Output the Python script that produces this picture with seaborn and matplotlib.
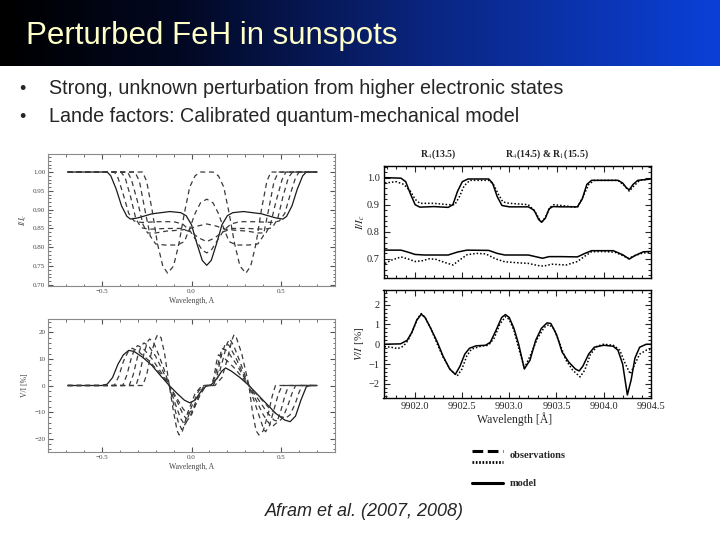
import numpy as np
import pandas as pd
import seaborn as sns
import matplotlib.pyplot as plt
from matplotlib.colors import LinearSegmentedColormap
from matplotlib.ticker import MultipleLocator

# ---- slide text
title = "Perturbed FeH in sunspots"
bullets = ["Strong, unknown perturbation from higher electronic states",
           "Lande factors: Calibrated quantum-mechanical model"]
citation = "Afram et al. (2007, 2008)"
branch_labels = [r"R$_4$(13.5)", r"R$_4$(14.5) & R$_1$(15.5)"]

# ---- left top: I/Ic vs wavelength offset (solid + 5 dashed)
lt_solid = [(-0.69,1.0),(-0.47,1.0),(-0.45,0.99),(-0.42,0.955),(-0.39,0.91),(-0.36,0.882),(-0.34,0.875),(-0.30,0.878),
            (-0.22,0.889),(-0.12,0.895),(-0.06,0.892),(-0.03,0.884),(0.0,0.86),(0.03,0.81),(0.06,0.765),(0.085,0.752),
            (0.11,0.765),(0.14,0.81),(0.17,0.86),(0.20,0.884),(0.23,0.892),(0.29,0.895),(0.39,0.889),(0.47,0.878),
            (0.51,0.875),(0.53,0.882),(0.56,0.91),(0.59,0.955),(0.62,0.99),(0.64,1.0),(0.70,1.0)]
lt_d1 = [(-0.69,1.0),(-0.43,1.0),(-0.41,0.985),(-0.38,0.94),(-0.35,0.89),(-0.32,0.87),(-0.28,0.866),(-0.18,0.868),
         (-0.10,0.868),(-0.05,0.862),(-0.01,0.845),(0.03,0.815),(0.06,0.792),(0.085,0.785),(0.11,0.792),(0.14,0.815),
         (0.18,0.845),(0.22,0.862),(0.27,0.868),(0.35,0.868),(0.45,0.866),(0.49,0.87),(0.52,0.89),(0.55,0.94),
         (0.58,0.985),(0.60,1.0),(0.70,1.0)]
lt_d2 = [(-0.69,1.0),(-0.393,1.0),(-0.37,0.985),(-0.34,0.935),(-0.31,0.875),(-0.28,0.852),(-0.24,0.848),(-0.14,0.85),
         (-0.06,0.85),(0.0,0.84),(0.04,0.825),(0.085,0.815),(0.13,0.825),(0.17,0.84),(0.23,0.85),(0.31,0.85),
         (0.41,0.848),(0.45,0.852),(0.48,0.875),(0.51,0.935),(0.54,0.985),(0.563,1.0),(0.70,1.0)]
lt_d3 = [(-0.69,1.0),(-0.356,1.0),(-0.335,0.98),(-0.30,0.92),(-0.27,0.86),(-0.245,0.838),(-0.20,0.838),(-0.14,0.843),
         (-0.08,0.845),(-0.02,0.848),(0.03,0.856),(0.085,0.862),(0.14,0.856),(0.19,0.848),(0.25,0.845),(0.31,0.843),
         (0.37,0.838),(0.415,0.838),(0.44,0.86),(0.47,0.92),(0.505,0.98),(0.526,1.0),(0.70,1.0)]
lt_d4 = [(-0.69,1.0),(-0.315,1.0),(-0.29,0.975),(-0.26,0.9),(-0.23,0.83),(-0.20,0.809),(-0.15,0.806),(-0.08,0.806),
         (-0.04,0.815),(-0.01,0.85),(0.02,0.89),(0.05,0.918),(0.085,0.928),(0.12,0.918),(0.15,0.89),(0.18,0.85),
         (0.21,0.815),(0.25,0.806),(0.32,0.806),(0.37,0.809),(0.40,0.83),(0.43,0.9),(0.46,0.975),(0.485,1.0),(0.70,1.0)]
lt_d5 = [(-0.69,1.0),(-0.272,1.0),(-0.25,0.975),(-0.22,0.9),(-0.19,0.81),(-0.16,0.75),(-0.133,0.731),(-0.10,0.75),
         (-0.07,0.81),(-0.04,0.89),(-0.01,0.96),(0.02,0.99),(0.05,1.0),(0.085,1.0),(0.12,1.0),(0.15,0.99),(0.18,0.96),
         (0.21,0.89),(0.24,0.81),(0.27,0.75),(0.303,0.731),(0.33,0.75),(0.36,0.81),(0.39,0.9),(0.42,0.975),
         (0.442,1.0),(0.70,1.0)]

# ---- left bottom: V/I [%]
lb_solid = [(-0.69,0),(-0.50,0),(-0.47,0.5),(-0.44,3),(-0.41,8),(-0.38,11.5),(-0.35,13.2),(-0.32,12.8),(-0.27,10.5),
            (-0.22,7.5),(-0.17,3.5),(-0.124,0),(-0.08,-3),(-0.04,-5.5),(-0.01,-6.5),(0.02,-5.5),(0.05,-2.5),
            (0.08,-0.3),(0.11,0.3),(0.14,2.5),(0.17,5.5),(0.19,6.6),(0.22,5.5),(0.27,3),(0.32,0),(0.37,-3.5),
            (0.42,-7),(0.47,-10.5),(0.52,-13),(0.55,-13.6),(0.58,-11.5),(0.61,-5.5),(0.64,-0.5),(0.66,0),(0.70,0)]
lb_d1 = [(-0.69,0),(-0.43,0),(-0.405,3.5),(-0.38,9),(-0.355,12.5),(-0.33,14),(-0.30,13),(-0.24,9.5),(-0.18,5),
         (-0.124,0),(-0.08,-5),(-0.045,-9),(-0.02,-10.5),(0.01,-9),(0.045,-4),(0.08,0),(0.11,0),(0.125,3),(0.14,9),
         (0.15,11.5),(0.18,10.5),(0.24,6.5),(0.29,2.5),(0.32,0),(0.38,-4.5),(0.44,-9),(0.49,-11.5),(0.524,-12.3),
         (0.55,-11),(0.58,-6.5),(0.60,-2.5),(0.617,0),(0.70,0)]
lb_d2 = [(-0.69,0),(-0.383,0),(-0.36,4),(-0.335,10.5),(-0.315,14),(-0.30,15),(-0.27,14),(-0.22,10),(-0.17,5),
         (-0.124,0),(-0.08,-6),(-0.05,-10.5),(-0.03,-12.5),(0.0,-11),(0.04,-4.5),(0.075,0),(0.11,0),(0.13,3),
         (0.155,10),(0.17,14),(0.20,13),(0.25,8),(0.29,3.5),(0.32,0),(0.37,-5),(0.42,-10),(0.46,-13),(0.487,-13.6),
         (0.51,-12),(0.54,-7),(0.56,-3),(0.58,0),(0.70,0)]
lb_d3 = [(-0.69,0),(-0.347,0),(-0.325,4),(-0.30,11),(-0.28,15),(-0.265,16),(-0.24,15),(-0.20,11),(-0.16,5.5),
         (-0.124,0),(-0.09,-7),(-0.06,-12.5),(-0.04,-14.5),(-0.01,-12),(0.03,-5),(0.07,0),(0.12,0),(0.14,3),
         (0.165,11),(0.19,16),(0.21,15),(0.25,10),(0.29,4),(0.32,0),(0.36,-5.5),(0.40,-11),(0.43,-14),(0.45,-15.5),
         (0.475,-14),(0.50,-9),(0.52,-4),(0.542,0),(0.70,0)]
lb_d4 = [(-0.69,0),(-0.31,0),(-0.29,4),(-0.265,12),(-0.245,16.5),(-0.233,17.5),(-0.21,16),(-0.18,11),(-0.15,5.5),
         (-0.124,0),(-0.10,-7),(-0.075,-13.5),(-0.055,-16.5),(-0.03,-14),(0.0,-8),(0.04,-2),(0.07,0),(0.12,0),
         (0.15,3.5),(0.18,11),(0.20,16),(0.213,17.5),(0.235,15),(0.27,9),(0.30,3.5),(0.32,0),(0.35,-6),(0.38,-12),
         (0.40,-16),(0.413,-17.4),(0.435,-15),(0.46,-9),(0.485,-3),(0.506,0),(0.70,0)]
lb_d5 = [(-0.69,0),(-0.272,0),(-0.25,4),(-0.225,12),(-0.20,17.5),(-0.189,19.1),(-0.17,18),(-0.15,12),(-0.124,0),
         (-0.10,-10),(-0.08,-17),(-0.069,-18.6),(-0.05,-17),(-0.02,-10),(0.02,-3),(0.06,0),(0.13,0),(0.17,3),
         (0.20,10),(0.225,17),(0.237,19.1),(0.25,18),(0.28,12),(0.32,0),(0.34,-10),(0.36,-17),(0.376,-18.6),
         (0.40,-17),(0.43,-10),(0.45,-4),(0.468,0),(0.70,0)]

# ---- right top: I/Ic, model (solid) and observations (dotted), two spectra
rt_model_up = [(9901.68,1.0),(9901.85,0.998),(9901.9,0.985),(9901.95,0.94),(9902.0,0.9),(9902.05,0.891),(9902.2,0.893),
               (9902.35,0.89),(9902.4,0.9),(9902.45,0.95),(9902.5,0.985),(9902.56,0.995),(9902.78,0.995),
               (9902.82,0.98),(9902.87,0.93),(9902.92,0.897),(9903.0,0.892),(9903.2,0.892),(9903.26,0.88),
               (9903.31,0.845),(9903.34,0.835),(9903.38,0.85),(9903.42,0.885),(9903.46,0.893),(9903.55,0.892),
               (9903.72,0.892),(9903.77,0.92),(9903.82,0.975),(9903.87,0.99),(9904.15,0.99),(9904.2,0.98),
               (9904.24,0.962),(9904.27,0.955),(9904.31,0.975),(9904.36,0.99),(9904.5,0.995)]
rt_obs_up = [(9901.68,0.98),(9901.8,0.985),(9901.88,0.975),(9901.95,0.95),(9902.0,0.92),(9902.05,0.905),(9902.2,0.905),
             (9902.35,0.9),(9902.42,0.9),(9902.47,0.93),(9902.52,0.97),(9902.58,0.99),(9902.78,0.99),(9902.83,0.975),
             (9902.88,0.94),(9902.93,0.91),(9903.0,0.905),(9903.2,0.9),(9903.27,0.875),(9903.32,0.845),
             (9903.35,0.838),(9903.39,0.86),(9903.43,0.89),(9903.47,0.9),(9903.6,0.895),(9903.72,0.89),
             (9903.78,0.93),(9903.84,0.975),(9903.9,0.99),(9904.15,0.99),(9904.22,0.97),(9904.27,0.95),
             (9904.32,0.97),(9904.38,0.99),(9904.5,0.995)]
rt_model_lo = [(9901.68,0.732),(9901.85,0.732),(9901.92,0.725),(9902.0,0.716),(9902.1,0.714),(9902.35,0.714),
               (9902.45,0.725),(9902.55,0.732),(9902.78,0.731),(9902.87,0.72),(9902.95,0.714),(9903.2,0.714),
               (9903.3,0.706),(9903.35,0.702),(9903.42,0.708),(9903.55,0.708),(9903.72,0.707),(9903.8,0.72),
               (9903.87,0.73),(9904.1,0.73),(9904.2,0.715),(9904.27,0.699),(9904.33,0.712),(9904.42,0.726),
               (9904.5,0.727)]
rt_obs_lo = [(9901.68,0.683),(9901.75,0.695),(9901.85,0.707),(9901.92,0.7),(9902.0,0.69),(9902.08,0.693),
             (9902.15,0.7),(9902.22,0.698),(9902.3,0.688),(9902.4,0.677),(9902.47,0.695),(9902.55,0.715),
             (9902.65,0.72),(9902.75,0.718),(9902.85,0.7),(9902.95,0.689),(9903.1,0.685),(9903.2,0.683),
             (9903.3,0.675),(9903.36,0.673),(9903.45,0.68),(9903.6,0.677),(9903.72,0.69),(9903.8,0.71),
             (9903.87,0.726),(9904.0,0.727),(9904.12,0.724),(9904.2,0.712),(9904.26,0.701),(9904.33,0.712),
             (9904.42,0.722),(9904.5,0.722)]

# ---- right bottom: V/I [%]
rb_model = [(9901.68,0),(9901.85,0.02),(9901.92,0.2),(9901.97,0.6),(9902.02,1.2),(9902.07,1.52),(9902.11,1.35),
            (9902.17,0.8),(9902.24,0.1),(9902.3,-0.6),(9902.37,-1.25),(9902.43,-1.52),(9902.48,-1.1),(9902.53,-0.5),
            (9902.58,-0.2),(9902.65,-0.08),(9902.75,-0.05),(9902.8,0.1),(9902.86,0.7),(9902.92,1.35),(9902.96,1.5),
            (9903.0,1.35),(9903.05,0.8),(9903.1,0.0),(9903.16,-1.25),(9903.22,-0.8),(9903.28,0.2),(9903.34,0.8),
            (9903.4,1.08),(9903.44,1.05),(9903.5,0.5),(9903.56,-0.4),(9903.63,-0.9),(9903.7,-1.25),(9903.74,-1.35),
            (9903.78,-1.1),(9903.84,-0.5),(9903.9,-0.15),(9904.0,-0.05),(9904.1,-0.1),(9904.15,-0.3),(9904.2,-1.0),
            (9904.25,-2.56),(9904.29,-1.8),(9904.33,-0.7),(9904.38,-0.15),(9904.45,0),(9904.5,0)]
rb_obs = [(9901.68,-0.12),(9901.75,-0.15),(9901.82,-0.22),(9901.88,-0.1),(9901.93,0.2),(9901.98,0.7),(9902.03,1.3),
          (9902.07,1.55),(9902.11,1.35),(9902.17,0.8),(9902.24,0.0),(9902.3,-0.65),(9902.38,-1.3),(9902.45,-1.6),
          (9902.5,-1.25),(9902.55,-0.6),(9902.6,-0.25),(9902.7,-0.1),(9902.78,-0.05),(9902.84,0.3),(9902.9,1.0),
          (9902.96,1.4),(9903.0,1.25),(9903.05,0.7),(9903.1,-0.2),(9903.16,-1.2),(9903.22,-0.6),(9903.3,0.3),
          (9903.37,0.85),(9903.42,1.0),(9903.47,0.8),(9903.53,0.1),(9903.6,-0.8),(9903.67,-1.3),(9903.75,-1.65),
          (9903.8,-1.3),(9903.86,-0.5),(9903.93,-0.1),(9904.0,0.0),(9904.1,-0.05),(9904.17,-0.3),(9904.22,-0.9),
          (9904.28,-1.5),(9904.33,-1.0),(9904.38,-0.5),(9904.45,-0.3),(9904.5,-0.25)]


def frame(curves):
    rows = [(x, y, name) for name, pts in curves.items() for x, y in pts]
    return pd.DataFrame(rows, columns=["wl", "val", "curve"])


sns.set_style("ticks")
plt.rcParams["font.family"] = ["Liberation Serif", "DejaVu Serif"]
plt.rcParams["mathtext.fontset"] = "stix"

fig = plt.figure(figsize=(7.2, 5.4), dpi=100)

# title bar gradient
bar = fig.add_axes([0, 1 - 66 / 540, 1, 66 / 540])
grad_cmap = LinearSegmentedColormap.from_list(
    "bar", [(0, "#000000"), (0.25, "#020822"), (0.6, "#0a2682"), (1, "#0b40d8")])
bar.imshow(np.linspace(0, 1, 256).reshape(1, -1), cmap=grad_cmap, aspect="auto", extent=[0, 1, 0, 1])
bar.set_axis_off()


def px_axes(x0, y0, x1, y1):
    return fig.add_axes([x0 / 720, 1 - y1 / 540, (x1 - x0) / 720, (y1 - y0) / 540])


left_names = ["solid", "d1", "d2", "d3", "d4", "d5"]
left_pal = {"solid": "#1a1a1a", "d1": "#3a3a3a", "d2": "#3a3a3a", "d3": "#3a3a3a", "d4": "#3a3a3a", "d5": "#3a3a3a"}
left_dash = {"solid": "", "d1": (4, 3), "d2": (4, 3), "d3": (4, 3), "d4": (4, 3), "d5": (4, 3)}


def style_left(ax):
    for s in ax.spines.values():
        s.set_color("#8a8a8a")
        s.set_linewidth(0.8)
    ax.tick_params(which="both", direction="in", top=True, right=True, colors="#555555",
                   labelsize=5, pad=2, labelcolor="#444444")
    ax.tick_params(which="major", length=3.5)
    ax.tick_params(which="minor", length=1.8)
    ax.set_xlim(-0.8, 0.8)
    ax.xaxis.set_major_locator(MultipleLocator(0.5))
    ax.xaxis.set_minor_locator(MultipleLocator(0.1))
    ax.set_xlabel("Wavelength, A", fontsize=5.5, color="#444444")
    ax.xaxis.set_label_coords(0.5, -0.085)


ax_lt = px_axes(48, 154, 335, 286)
sns.lineplot(data=frame(dict(zip(left_names, [lt_solid, lt_d1, lt_d2, lt_d3, lt_d4, lt_d5]))),
             x="wl", y="val", hue="curve", style="curve", palette=left_pal, dashes=left_dash,
             sort=False, estimator=None, legend=False, linewidth=0.9, ax=ax_lt)
style_left(ax_lt)
ax_lt.set_ylim(0.697, 1.048)
ax_lt.yaxis.set_major_locator(MultipleLocator(0.05))
ax_lt.yaxis.set_minor_locator(MultipleLocator(0.01))
ax_lt.yaxis.set_major_formatter(lambda v, p: f"{v:.2f}")
ax_lt.set_ylabel(r"$I/I_c$", fontsize=6, color="#444444")
ax_lt.yaxis.set_label_coords(-0.065, 0.5)

ax_lb = px_axes(48, 319, 335, 452)
sns.lineplot(data=frame(dict(zip(left_names, [lb_solid, lb_d1, lb_d2, lb_d3, lb_d4, lb_d5]))),
             x="wl", y="val", hue="curve", style="curve", palette=left_pal, dashes=left_dash,
             sort=False, estimator=None, legend=False, linewidth=0.9, ax=ax_lb)
style_left(ax_lb)
ax_lb.set_ylim(-25, 25)
ax_lb.yaxis.set_major_locator(MultipleLocator(10))
ax_lb.yaxis.set_minor_locator(MultipleLocator(2))
ax_lb.set_ylabel("V/I [%]", fontsize=5.5, color="#444444")
ax_lb.yaxis.set_label_coords(-0.065, 0.5)

right_pal = {"model": "black", "obs": "black"}
right_dash = {"model": "", "obs": (1, 1.3)}


def style_right(ax):
    for s in ax.spines.values():
        s.set_color("black")
        s.set_linewidth(1.0)
    ax.tick_params(which="both", direction="in", top=True, right=True, labelsize=7.5, pad=3, width=0.8)
    ax.tick_params(which="major", length=4)
    ax.tick_params(which="minor", length=2)
    ax.set_xlim(9901.67, 9904.5)
    ax.xaxis.set_major_locator(MultipleLocator(0.5))
    ax.xaxis.set_minor_locator(MultipleLocator(0.1))
    ax.xaxis.set_major_formatter(lambda v, p: f"{v:.1f}")


ax_rt = px_axes(384, 166, 651, 278)
df_up = frame({"model": rt_model_up, "obs": rt_obs_up})
df_lo = frame({"model": rt_model_lo, "obs": rt_obs_lo})
for df in (df_up, df_lo):
    sns.lineplot(data=df, x="wl", y="val", hue="curve", style="curve", palette=right_pal, dashes=right_dash,
                 sort=False, estimator=None, legend=False, linewidth=1.1, ax=ax_rt)
style_right(ax_rt)
ax_rt.set_ylim(0.629, 1.043)
ax_rt.yaxis.set_major_locator(MultipleLocator(0.1))
ax_rt.yaxis.set_minor_locator(MultipleLocator(0.02))
ax_rt.yaxis.set_major_formatter(lambda v, p: f"{v:.1f}")
ax_rt.tick_params(labelbottom=False)
ax_rt.set_xlabel("")
ax_rt.set_ylabel(r"$I/I_c$", fontsize=8)
ax_rt.yaxis.set_label_coords(-0.065, 0.5)

ax_rb = px_axes(383.5, 290, 651, 398.3)
sns.lineplot(data=frame({"model": rb_model, "obs": rb_obs}), x="wl", y="val", hue="curve", style="curve",
             palette=right_pal, dashes=right_dash, sort=False, estimator=None, legend=False,
             linewidth=1.1, ax=ax_rb)
style_right(ax_rb)
ax_rb.set_ylim(-2.73, 2.74)
ax_rb.yaxis.set_major_locator(MultipleLocator(1))
ax_rb.yaxis.set_minor_locator(MultipleLocator(0.2))
ax_rb.yaxis.set_major_formatter(lambda v, p: f"{v:.0f}".replace("-", "\u2212"))
ax_rb.set_ylabel(r"$V/I$ [%]", fontsize=8)
ax_rb.yaxis.set_label_coords(-0.065, 0.5)
ax_rb.set_xlabel("Wavelength [Å]", fontsize=8.5)
ax_rb.xaxis.set_label_coords(0.49, -0.13)

# overlay for slide text and the legend, in pixel coordinates
ov = fig.add_axes([0, 0, 1, 1], facecolor="none")
ov.set_xlim(0, 720)
ov.set_ylim(540, 0)
ov.set_axis_off()
sans = ["Liberation Sans", "DejaVu Sans"]
ov.text(26, 36, title, family=sans, fontsize=22.5, color="#FFFFC8", va="center", ha="left")
for yy, txt in zip([89, 117], bullets):
    ov.text(19, yy, "\u2022", family=sans, fontsize=13, va="center", ha="left")
    ov.text(49, yy, txt, family=sans, fontsize=14.2, va="center", ha="left")
ov.text(364, 512, citation, family=sans, fontsize=13, style="italic", va="center", ha="center")

ov.text(438, 154, branch_labels[0], fontsize=7, fontweight="bold", ha="center", va="center")
ov.text(547, 154, branch_labels[1], fontsize=7, fontweight="bold", ha="center", va="center")

ov.plot([472, 503], [451, 451], color="black", lw=2.2, ls=(0, (3.5, 1.5)))
ov.plot([472, 503], [462, 462], color="black", lw=2.0, ls=(0, (0.6, 0.6)))
ov.text(510, 456, "observations", fontsize=7.5, fontweight="bold", ha="left", va="center")
ov.plot([472, 503], [483, 483], color="black", lw=2.2)
ov.text(510, 483, "model", fontsize=7.5, fontweight="bold", ha="left", va="center")

fig.savefig("out.png", dpi=100)
